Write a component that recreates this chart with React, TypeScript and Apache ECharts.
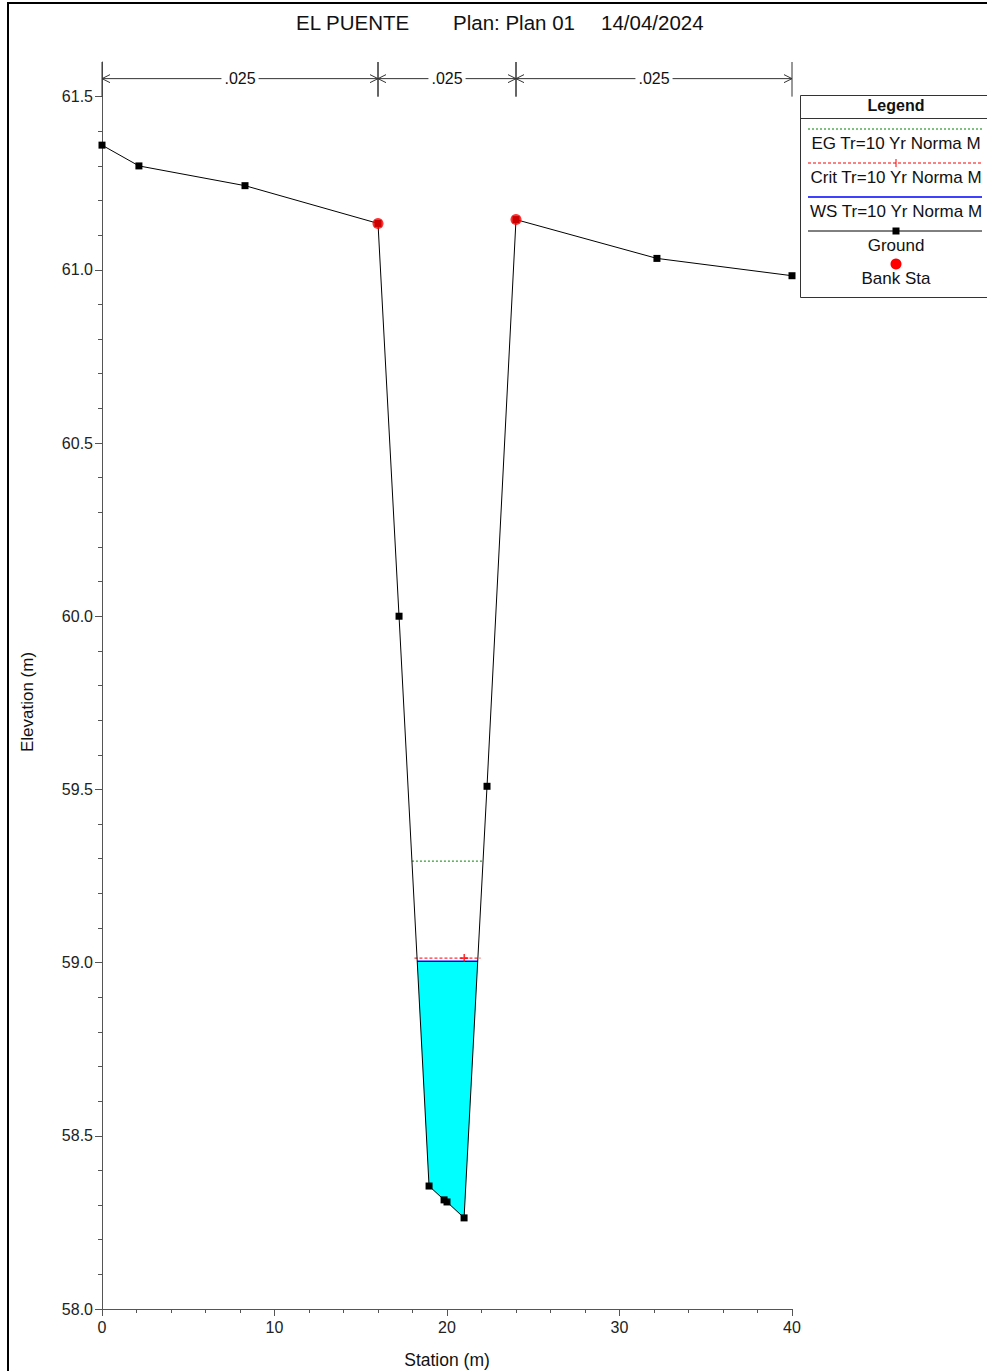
import React, { useEffect, useRef } from "react";
import * as echarts from "echarts";

// ---- data ----
const groundStations = [0, 2.14, 8.29, 16.0, 17.22, 18.96, 19.83, 20.0, 20.99, 22.32, 24.0, 32.17, 40.0];
const groundElevations = [61.36, 61.30, 61.243, 61.134, 60.0, 58.355, 58.315, 58.309, 58.263, 59.509, 61.145, 61.033, 60.983];
const bankStations = [16.0, 24.0];
const bankElevations = [61.134, 61.145];
const wsElevation = 59.004;
const critElevation = 59.013;
const critMarkStation = 21.0;
const egElevation = 59.293;
const manningBreaks = [0, 16, 24, 40];
const manningValues = [".025", ".025", ".025"];
const xTickLabels = [0, 10, 20, 30, 40];
const yTickLabels = [58.0, 58.5, 59.0, 59.5, 60.0, 60.5, 61.0, 61.5];
const titleParts = ["EL PUENTE", "Plan: Plan 01", "14/04/2024"];
const legendLabels = ["EG Tr=10 Yr Norma M", "Crit Tr=10 Yr Norma M", "WS Tr=10 Yr Norma M", "Ground", "Bank Sta"];

const FONT = "'Liberation Sans', Arial, sans-serif";
const Y_MIN = 58;
const Y_MAX = 61.6;

// intersection of a horizontal level with the channel walls of the ground line
function channelExtent(level: number) {
  let iMin = 0;
  groundElevations.forEach((e, i) => {
    if (e < groundElevations[iMin]) iMin = i;
  });
  let l = iMin;
  while (l > 0 && groundElevations[l - 1] < level) l--;
  let r = iMin;
  while (r < groundElevations.length - 1 && groundElevations[r + 1] < level) r++;
  const interp = (a: number, b: number) => {
    const t = (level - groundElevations[a]) / (groundElevations[b] - groundElevations[a]);
    return groundStations[a] + t * (groundStations[b] - groundStations[a]);
  };
  const left = l > 0 ? interp(l, l - 1) : groundStations[0];
  const right = r < groundElevations.length - 1 ? interp(r, r + 1) : groundStations[groundStations.length - 1];
  return { left, right, l, r };
}

function waterPolygon() {
  const ext = channelExtent(wsElevation);
  const pts: number[][] = [[ext.left, wsElevation]];
  for (let i = ext.l; i <= ext.r; i++) pts.push([groundStations[i], groundElevations[i]]);
  pts.push([ext.right, wsElevation]);
  return pts;
}

const minorYTicks: number[] = [];
for (let i = 1; i < 35; i++) if (i % 5 !== 0) minorYTicks.push(Math.round((Y_MIN + i / 10) * 10) / 10);

export default function App() {
  const ref = useRef<HTMLDivElement>(null);

  useEffect(() => {
    if (!ref.current) return;
    const chart = echarts.init(ref.current, null, { renderer: "svg" });
    const ws = channelExtent(wsElevation);
    const crit = channelExtent(critElevation);
    const eg = channelExtent(egElevation);
    const water = waterPolygon();
    const annY = 61.552;

    const legendX1 = 808;
    const legendX2 = 982;
    const legendCx = 896;
    const textStyle = (t: string, y: number, bold = false) => ({
      type: "text",
      x: legendCx,
      y,
      style: { text: t, fill: "#111", font: `${bold ? "bold 16px" : "17px"} ${FONT}`, align: "center", verticalAlign: "middle" },
    });

    const option: any = {
      animation: false,
      backgroundColor: "#ffffff",
      grid: { left: 102, right: 195, top: 62, bottom: 62, containLabel: false },
      xAxis: {
        type: "value",
        min: 0,
        max: 40,
        interval: 10,
        axisLine: { lineStyle: { color: "#555", width: 1 } },
        axisTick: { show: true, length: 7, lineStyle: { color: "#555" } },
        minorTick: { show: true, splitNumber: 5, length: 4, lineStyle: { color: "#555" } },
        splitLine: { show: false },
        axisLabel: {
          color: "#222",
          fontSize: 16,
          fontFamily: FONT,
          margin: 10,
          customValues: xTickLabels,
          formatter: (v: number) => String(v),
        },
      },
      yAxis: [
        {
          type: "value",
          min: Y_MIN,
          max: Y_MAX,
          interval: 0.5,
          position: "left",
          axisLine: { show: true, lineStyle: { color: "#555", width: 1 } },
          axisTick: { show: true, length: 7, customValues: yTickLabels, lineStyle: { color: "#555" } },
          splitLine: { show: false },
          axisLabel: {
            color: "#222",
            fontSize: 16,
            fontFamily: FONT,
            margin: 9,
            customValues: yTickLabels,
            formatter: (v: number) => v.toFixed(1),
          },
        },
        {
          type: "value",
          min: Y_MIN,
          max: Y_MAX,
          position: "left",
          offset: 0,
          axisLine: { show: false },
          axisTick: { show: true, length: 4, customValues: minorYTicks, lineStyle: { color: "#555" } },
          axisLabel: { show: false },
          splitLine: { show: false },
        },
      ],
      series: [
        {
          type: "custom",
          name: "water",
          z: 1,
          data: [[0, Y_MIN]],
          renderItem: (_p: any, api: any) => ({
            type: "polygon",
            shape: { points: water.map((p) => api.coord(p)) },
            style: { fill: "#00FFFF", stroke: "none" },
          }),
          silent: true,
        },
        {
          type: "line",
          name: "EG",
          z: 3,
          data: [[eg.left, egElevation], [eg.right, egElevation]],
          showSymbol: false,
          lineStyle: { color: "#008000", width: 1, type: [2, 2] },
        },
        {
          type: "line",
          name: "Crit",
          z: 3,
          data: [[crit.left - 0.15, critElevation], [crit.right + 0.15, critElevation]],
          showSymbol: false,
          lineStyle: { color: "#FF0000", width: 1, type: [3, 2] },
        },
        {
          type: "scatter",
          name: "CritMark",
          z: 4,
          data: [[critMarkStation, critElevation]],
          symbol: "path://M4,0 H6 V4 H10 V6 H6 V10 H4 V6 H0 V4 H4 Z",
          symbolSize: 8,
          itemStyle: { color: "#FF0000" },
        },
        {
          type: "line",
          name: "WS",
          z: 3,
          data: [[ws.left, wsElevation], [ws.right, wsElevation]],
          showSymbol: false,
          lineStyle: { color: "#0000FF", width: 1.5 },
        },
        {
          type: "line",
          name: "Ground",
          z: 5,
          data: groundStations.map((s, i) => [s, groundElevations[i]]),
          symbol: "rect",
          symbolSize: 7,
          showSymbol: true,
          itemStyle: { color: "#000" },
          lineStyle: { color: "#000", width: 1 },
        },
        {
          type: "scatter",
          name: "Bank Sta",
          z: 6,
          data: bankStations.map((s, i) => [s, bankElevations[i]]),
          symbol: "circle",
          symbolSize: 11,
          itemStyle: { color: "#FF0000" },
        },
        {
          type: "custom",
          name: "manning",
          z: 7,
          data: manningValues.map((v, i) => [manningBreaks[i], manningBreaks[i + 1], i]),
          renderItem: (params: any, api: any) => {
            const s = api.value(0);
            const e = api.value(1);
            const idx = params.dataIndex;
            const p0 = api.coord([s, annY]);
            const p1 = api.coord([e, annY]);
            const t0 = api.coord([s, Y_MAX]);
            const b0 = api.coord([s, 61.5]);
            const t1 = api.coord([e, Y_MAX]);
            const b1 = api.coord([e, 61.5]);
            const stroke = { stroke: "#333", lineWidth: 1, fill: "none" };
            return {
              type: "group",
              children: [
                { type: "line", shape: { x1: t0[0], y1: t0[1], x2: b0[0], y2: b0[1] }, style: stroke },
                { type: "line", shape: { x1: t1[0], y1: t1[1], x2: b1[0], y2: b1[1] }, style: stroke },
                { type: "line", shape: { x1: p0[0], y1: p0[1], x2: p1[0], y2: p1[1] }, style: stroke },
                { type: "polyline", shape: { points: [[p0[0] + 8, p0[1] - 4], [p0[0], p0[1]], [p0[0] + 8, p0[1] + 4]] }, style: stroke },
                { type: "polyline", shape: { points: [[p1[0] - 8, p1[1] - 4], [p1[0], p1[1]], [p1[0] - 8, p1[1] + 4]] }, style: stroke },
                {
                  type: "text",
                  x: (p0[0] + p1[0]) / 2,
                  y: p0[1],
                  style: {
                    text: manningValues[idx],
                    fill: "#111",
                    font: `16px ${FONT}`,
                    align: "center",
                    verticalAlign: "middle",
                    backgroundColor: "#fff",
                    padding: [0, 3],
                  },
                },
              ],
            };
          },
          silent: true,
        },
      ],
      graphic: [
        { type: "rect", shape: { x: 8, y: 3, width: 1200, height: 1600 }, style: { fill: "none", stroke: "#000", lineWidth: 2 }, silent: true },
        { type: "text", x: 296, y: 22, style: { text: titleParts[0], fill: "#111", font: `20.5px ${FONT}`, align: "left", verticalAlign: "middle" } },
        { type: "text", x: 453, y: 22, style: { text: titleParts[1], fill: "#111", font: `20.5px ${FONT}`, align: "left", verticalAlign: "middle" } },
        { type: "text", x: 601, y: 22, style: { text: titleParts[2], fill: "#111", font: `20.5px ${FONT}`, align: "left", verticalAlign: "middle" } },
        {
          type: "text",
          x: 27,
          y: 702,
          rotation: Math.PI / 2,
          style: { text: "Elevation (m)", fill: "#111", font: `17px ${FONT}`, align: "center", verticalAlign: "middle" },
        },
        { type: "text", x: 447, y: 1360, style: { text: "Station (m)", fill: "#111", font: `17.5px ${FONT}`, align: "center", verticalAlign: "middle" } },
        // legend
        { type: "rect", shape: { x: 800.5, y: 95.5, width: 200, height: 202 }, style: { fill: "#fff", stroke: "#333", lineWidth: 1 }, z: 10 },
        { type: "line", shape: { x1: 800, y1: 118.5, x2: 987, y2: 118.5 }, style: { stroke: "#333", lineWidth: 1 }, z: 11 },
        { ...textStyle("Legend", 105, true), z: 11 },
        { type: "line", shape: { x1: legendX1, y1: 129, x2: legendX2, y2: 129 }, style: { stroke: "#008000", lineWidth: 1, lineDash: [2, 2] }, z: 11 },
        { ...textStyle(legendLabels[0], 143), z: 11 },
        { type: "line", shape: { x1: legendX1, y1: 163, x2: legendX2, y2: 163 }, style: { stroke: "#FF0000", lineWidth: 1, lineDash: [3, 2] }, z: 11 },
        { type: "line", shape: { x1: legendCx, y1: 159, x2: legendCx, y2: 167 }, style: { stroke: "#FF0000", lineWidth: 1 }, z: 11 },
        { ...textStyle(legendLabels[1], 177), z: 11 },
        { type: "line", shape: { x1: legendX1, y1: 197, x2: legendX2, y2: 197 }, style: { stroke: "#0000FF", lineWidth: 1.5 }, z: 11 },
        { ...textStyle(legendLabels[2], 211), z: 11 },
        { type: "line", shape: { x1: legendX1, y1: 231, x2: legendX2, y2: 231 }, style: { stroke: "#000", lineWidth: 1 }, z: 11 },
        { type: "rect", shape: { x: legendCx - 3.5, y: 227.5, width: 7, height: 7 }, style: { fill: "#000" }, z: 11 },
        { ...textStyle(legendLabels[3], 245), z: 11 },
        { type: "circle", shape: { cx: legendCx, cy: 264, r: 5.5 }, style: { fill: "#FF0000" }, z: 11 },
        { ...textStyle(legendLabels[4], 278), z: 11 },
      ],
    };
    chart.setOption(option);
    return () => chart.dispose();
  }, []);

  return (
    <div
      ref={ref}
      style={{ position: "fixed", left: 0, top: 0, width: 987, height: 1371, background: "#fff" }}
    />
  );
}
